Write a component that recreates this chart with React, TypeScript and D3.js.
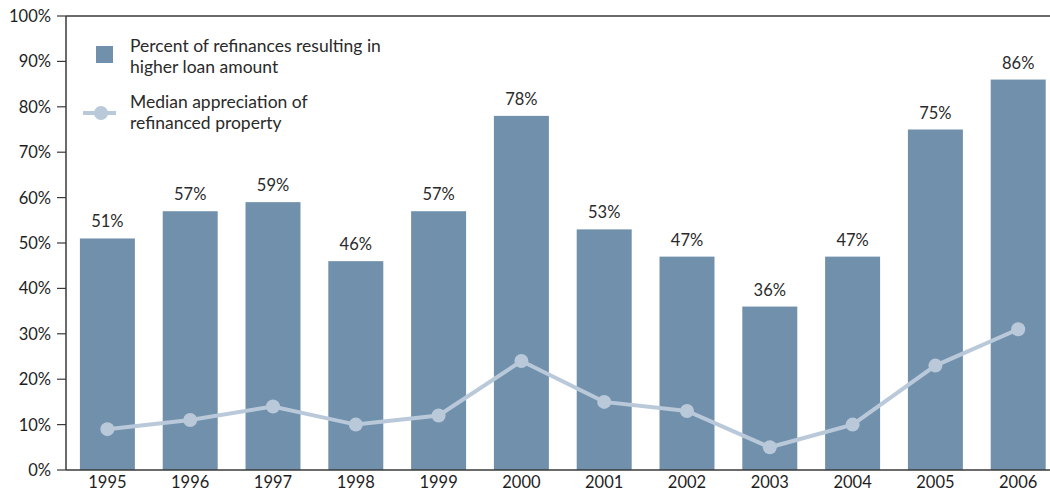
import React, { useEffect } from "react";
import * as d3 from "d3";

const years = ["1995","1996","1997","1998","1999","2000","2001","2002","2003","2004","2005","2006"];
const higherLoanPct = [51,57,59,46,57,78,53,47,36,47,75,86];
const medianAppreciation = [9,11,14,10,12,24,15,13,5,10,23,31];
const yTicks = [0,10,20,30,40,50,60,70,80,90,100];
const legendBarText = ["Percent of refinances resulting in", "higher loan amount"];
const legendLineText = ["Median appreciation of", "refinanced property"];

const W = 1050, H = 492;
const left = 66, top = 16, bottom = 470;
const barColor = "#7190ab";
const lineColor = "#b9c9da";
const axisColor = "#3a3a3a";
const font = "Lato, 'Open Sans', sans-serif";

export default function App() {
  useEffect(() => { document.body.style.margin = "0"; }, []);
  const x = d3.scaleBand<string>().domain(years).range([left, 1059.6]).paddingInner(0.336).paddingOuter(0.168);
  const y = d3.scaleLinear().domain([0, 100]).range([bottom, top]);
  const line = d3.line<number>().x((_, i) => (x(years[i]) as number) + x.bandwidth() / 2).y(d => y(d));
  return (
    <svg width={W} height={H} style={{ display: "block", fontFamily: font }}>
      {higherLoanPct.map((v, i) => (
        <g key={years[i]}>
          <rect x={x(years[i])} y={y(v)} width={x.bandwidth()} height={bottom - y(v)} fill={barColor} />
          <text x={(x(years[i]) as number) + x.bandwidth() / 2} y={y(v) - 11} textAnchor="middle" fontSize={16.5} fill="#2a2a2a">{v}%</text>
          <text x={(x(years[i]) as number) + x.bandwidth() / 2} y={488} textAnchor="middle" fontSize={16.5} fill="#1e1e1e">{years[i]}</text>
        </g>
      ))}
      <path d={line(medianAppreciation) || ""} fill="none" stroke={lineColor} strokeWidth={4} />
      {medianAppreciation.map((v, i) => (
        <circle key={i} cx={(x(years[i]) as number) + x.bandwidth() / 2} cy={y(v)} r={7} fill={lineColor} />
      ))}
      <line x1={left} x2={W} y1={top} y2={top} stroke={axisColor} strokeWidth={1.5} />
      <line x1={left} x2={W} y1={bottom} y2={bottom} stroke={axisColor} strokeWidth={1.5} />
      <line x1={left} x2={left} y1={top} y2={bottom} stroke={axisColor} strokeWidth={1.5} />
      {yTicks.map(t => (
        <g key={t}>
          <line x1={57} x2={left} y1={y(t)} y2={y(t)} stroke={axisColor} strokeWidth={1.2} />
          <text x={51} y={y(t) + 6} textAnchor="end" fontSize={16.5} fill="#1e1e1e">{t}%</text>
        </g>
      ))}
      <rect x={96} y={46} width={17} height={17} fill={barColor} />
      {legendBarText.map((t, i) => (
        <text key={t} x={130} y={52 + i * 21} fontSize={17.5} fill="#2a2a2a">{t}</text>
      ))}
      <line x1={83} x2={116} y1={113} y2={113} stroke={lineColor} strokeWidth={4} />
      <circle cx={101} cy={113} r={7} fill={lineColor} />
      {legendLineText.map((t, i) => (
        <text key={t} x={130} y={108 + i * 21} fontSize={17.5} fill="#2a2a2a">{t}</text>
      ))}
    </svg>
  );
}
